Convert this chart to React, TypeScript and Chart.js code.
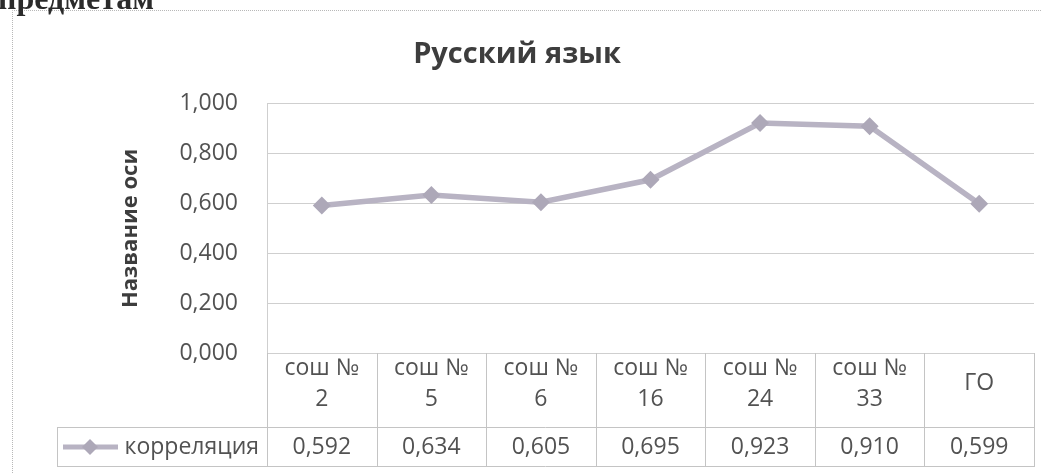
import React, { useEffect, useRef } from "react";
import { Chart, registerables } from "chart.js";

Chart.register(...registerables);

// ---- data ----
const categories: (string | string[])[] = [
  ["сош №", "2"],
  ["сош №", "5"],
  ["сош №", "6"],
  ["сош №", "16"],
  ["сош №", "24"],
  ["сош №", "33"],
  "ГО",
];
const values: number[] = [0.592, 0.634, 0.605, 0.695, 0.923, 0.91, 0.599];
const seriesName = "корреляция";
const chartTitle = "Русский язык";
const yAxisTitle = "Название оси";
const pageHeading = "предметам";
const yMin = 0;
const yMax = 1;
const yStep = 0.2;

// ---- styles ----
const FONT = "'Open Sans', 'Noto Sans', sans-serif";
const TEXT = "#525252";
const DARK = "#3d3d3d";
const LINE = "#b8b3c3";
const MARK = "#ada8b8";
const GRID = "#cfcfcf";
const TABLE = "#c4c4c4";

const fmt = (v: number) => v.toFixed(3).replace(".", ",");

const tablePlugin = {
  id: "dataTable",
  afterDraw(chart: any) {
    const { ctx, chartArea, scales } = chart;
    const xs = scales.x;
    const n = categories.length;
    const colW = (chartArea.right - chartArea.left) / n;
    const top = chartArea.bottom;
    const bottom = xs.bottom;
    const rowH = 40;
    const rowTop = bottom - rowH;
    const legendLeft = 57;

    ctx.save();
    // outer chart border (dotted)
    ctx.strokeStyle = "#b8b8b8";
    ctx.lineWidth = 1;
    ctx.setLineDash([1, 1]);
    ctx.beginPath();
    ctx.moveTo(12.5, 473);
    ctx.lineTo(12.5, 10.5);
    ctx.lineTo(1042, 10.5);
    ctx.stroke();
    ctx.setLineDash([]);

    // table grid
    ctx.strokeStyle = TABLE;
    ctx.lineWidth = 1;
    ctx.beginPath();
    for (let i = 0; i <= n; i++) {
      const px = Math.round(xs.getPixelForValue(Math.min(i, n - 1)) + (i < n ? -colW / 2 : colW / 2)) + 0.5;
      ctx.moveTo(px, top);
      ctx.lineTo(px, bottom);
    }
    ctx.moveTo(legendLeft, Math.round(rowTop) + 0.5);
    ctx.lineTo(chartArea.right, Math.round(rowTop) + 0.5);
    ctx.moveTo(legendLeft, Math.round(bottom) - 0.5);
    ctx.lineTo(chartArea.right, Math.round(bottom) - 0.5);
    ctx.moveTo(legendLeft + 0.5, Math.round(rowTop));
    ctx.lineTo(legendLeft + 0.5, Math.round(bottom));
    ctx.stroke();

    // values row
    const midY = rowTop + rowH / 2;
    ctx.fillStyle = TEXT;
    ctx.font = `23px ${FONT}`;
    ctx.textAlign = "center";
    ctx.textBaseline = "middle";
    values.forEach((v, i) => {
      ctx.fillText(fmt(v), xs.getPixelForValue(i), midY);
    });

    // legend key
    ctx.textAlign = "right";
    ctx.fillText(seriesName, chartArea.left - 8, midY);
    ctx.strokeStyle = LINE;
    ctx.lineWidth = 5;
    ctx.beginPath();
    ctx.moveTo(63, midY);
    ctx.lineTo(118, midY);
    ctx.stroke();
    ctx.fillStyle = MARK;
    ctx.beginPath();
    const r = 8;
    ctx.moveTo(90, midY - r);
    ctx.lineTo(90 + r, midY);
    ctx.lineTo(90, midY + r);
    ctx.lineTo(90 - r, midY);
    ctx.closePath();
    ctx.fill();
    ctx.restore();
  },
};

export default function App() {
  const ref = useRef<HTMLCanvasElement | null>(null);

  useEffect(() => {
    if (!ref.current) return;
    const chart = new Chart(ref.current, {
      type: "line",
      data: {
        labels: categories as any,
        datasets: [
          {
            label: seriesName,
            data: values,
            borderColor: LINE,
            borderWidth: 5.5,
            backgroundColor: MARK,
            pointStyle: "rectRot",
            pointRadius: 9,
            pointBorderWidth: 0,
            pointBackgroundColor: MARK,
            tension: 0,
          },
        ],
      },
      options: {
        animation: false,
        responsive: false,
        devicePixelRatio: 1,
        layout: { padding: { left: 0, right: 19, top: 0, bottom: 6 } },
        plugins: {
          legend: { display: false },
          tooltip: { enabled: false },
          title: {
            display: true,
            text: chartTitle,
            color: DARK,
            font: { family: FONT, size: 29, weight: "bold", lineHeight: 1.2 },
            padding: { top: 37, bottom: 32 },
          },
        },
        scales: {
          x: {
            type: "category",
            offset: true,
            grid: { display: false },
            border: { display: true, color: GRID, width: 1 },
            ticks: {
              color: TEXT,
              font: { family: FONT, size: 23, lineHeight: 1.35 },
              autoSkip: false,
              maxRotation: 0,
              minRotation: 0,
              crossAlign: "center",
              padding: 7,
            },
            afterFit: (s: any) => {
              s.height = 114;
            },
          },
          y: {
            min: yMin,
            max: yMax,
            grid: { color: GRID, drawTicks: false, lineWidth: 1 },
            border: { display: true, color: GRID, width: 1 },
            ticks: {
              stepSize: yStep,
              color: TEXT,
              font: { family: FONT, size: 23 },
              padding: 29,
              callback: (v: any) => fmt(Number(v)),
            },
            title: {
              display: true,
              text: yAxisTitle,
              color: DARK,
              font: { family: FONT, size: 22, weight: "bold", lineHeight: 1.2 },
              padding: { top: 118, bottom: 0 },
            },
            afterFit: (s: any) => {
              s.width = 267;
            },
          },
        },
      },
      plugins: [tablePlugin],
    });
    return () => chart.destroy();
  }, []);

  return (
    <div
      style={{
        position: "absolute",
        left: 0,
        top: 0,
        width: 1053,
        height: 473,
        overflow: "hidden",
        background: "#ffffff",
      }}
    >
      <canvas
        ref={ref}
        width={1053}
        height={473}
        style={{ position: "absolute", left: 0, top: 0, display: "block" }}
      />
      <div
        style={{
          position: "absolute",
          left: -2,
          top: -18,
          font: "bold 32px 'Liberation Serif', 'DejaVu Serif', serif",
          lineHeight: "32px",
          color: "#2b2b2b",
          whiteSpace: "nowrap",
        }}
      >
        {pageHeading}
      </div>
    </div>
  );
}
